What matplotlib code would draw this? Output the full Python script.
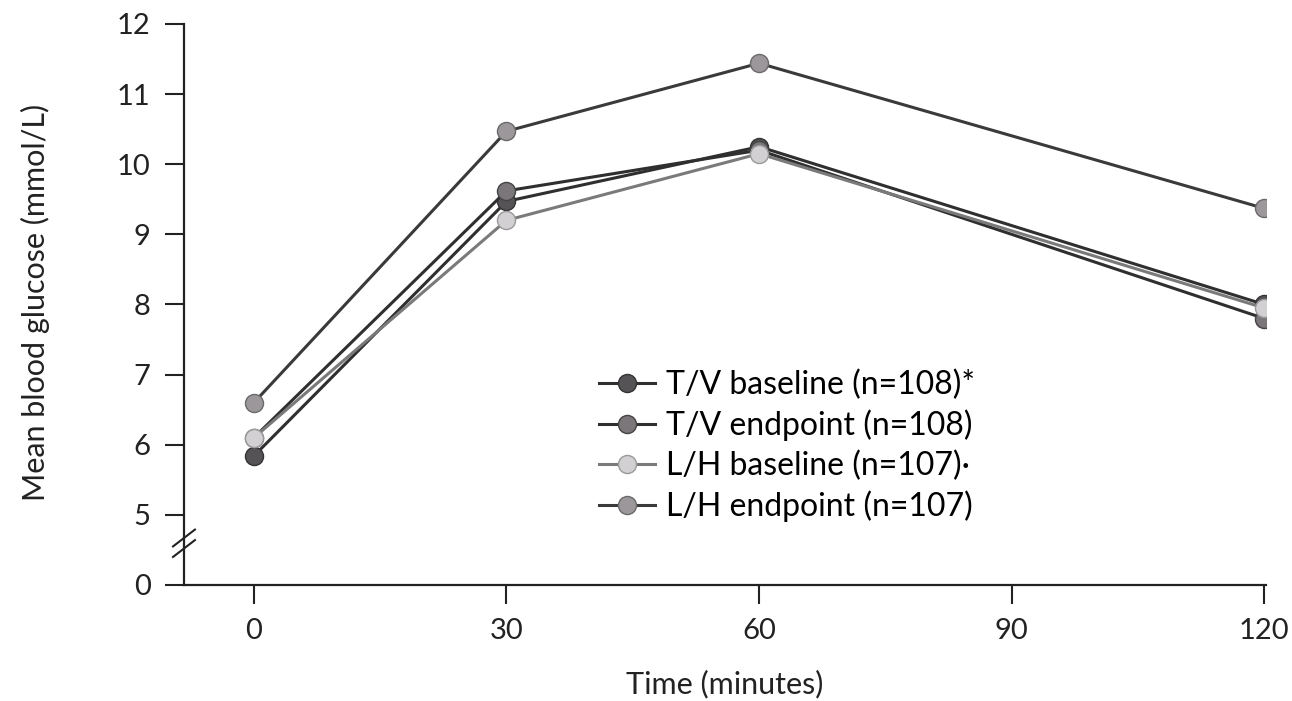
import numpy as np
import matplotlib.pyplot as plt

# Oral glucose tolerance profiles, mean blood glucose (mmol/L)
time_min = [0, 30, 60, 120]
tv_baseline = [5.84, 9.47, 10.25, 8.0]
tv_endpoint = [6.1, 9.62, 10.2, 7.8]
lh_baseline = [6.1, 9.2, 10.15, 7.95]
lh_endpoint = [6.6, 10.47, 11.44, 9.37]

labels = ["T/V baseline (n=108)*", "T/V endpoint (n=108)",
          "L/H baseline (n=107)\u2219", "L/H endpoint (n=107)"]
yticks = [0, 5, 6, 7, 8, 9, 10, 11, 12]
xticks = [0, 30, 60, 90, 120]

# the axis is broken between 0 and 5: 0 is drawn one step below 5
BREAK_POS = 4.0


def to_axis(v):
    v = np.asarray(v, dtype=float)
    return np.where(v < 5, BREAK_POS, v)


plt.rcParams['font.family'] = ['Lato', 'DejaVu Sans']

fig = plt.figure(figsize=(12.92, 7.01), dpi=100)
ax = fig.add_axes([0.1424, 0.1655, 0.8375, 0.8003])

series = [
    (tv_baseline, '#2f2f2f', '#555356', '#333333'),
    (tv_endpoint, '#2f2f2f', '#7a7679', '#444444'),
    (lh_baseline, '#7a7a7a', '#d2d0d2', '#9a9a9a'),
    (lh_endpoint, '#3a3a3a', '#9c979b', '#6a6a6a'),
]
for (vals, lc, fc, ec), lab in zip(series, labels):
    ax.plot(time_min, to_axis(vals), color=lc, lw=2.2, marker='o',
            markersize=13, markerfacecolor=fc, markeredgecolor=ec,
            markeredgewidth=1.0, label=lab)

ax.set_xlim(-8.3, 120.2)
ax.set_ylim(BREAK_POS, 12)
ax.set_xticks(xticks)
ax.set_yticks(to_axis(yticks))
ax.set_yticklabels([str(t) for t in yticks])

for side in ('top', 'right'):
    ax.spines[side].set_visible(False)
for side in ('left', 'bottom'):
    ax.spines[side].set_linewidth(1.6)
    ax.spines[side].set_color('#222222')

ax.tick_params(axis='both', direction='out', length=14, width=1.5,
               color='#222222', labelsize=21, labelcolor='#222222', pad=10)

# break marks on the y axis
for yb in (4.52, 4.67):
    ax.plot([-9.6, -7.0], [yb - 0.12, yb + 0.12], color='#222222', lw=1.5,
            clip_on=False)

ax.set_xlabel("Time (minutes)", fontsize=22, color='#222222', labelpad=18)
ax.set_ylabel("Mean blood glucose (mmol/L)", fontsize=22, color='#222222')
ax.yaxis.set_label_coords(-0.124, 0.504)

ax.legend(loc='upper left', bbox_to_anchor=(0.372, 0.407), frameon=False,
          fontsize=23, handlelength=1.75, handletextpad=0.35,
          labelspacing=0.3, borderaxespad=0)

fig.savefig('out.png', dpi=100)
